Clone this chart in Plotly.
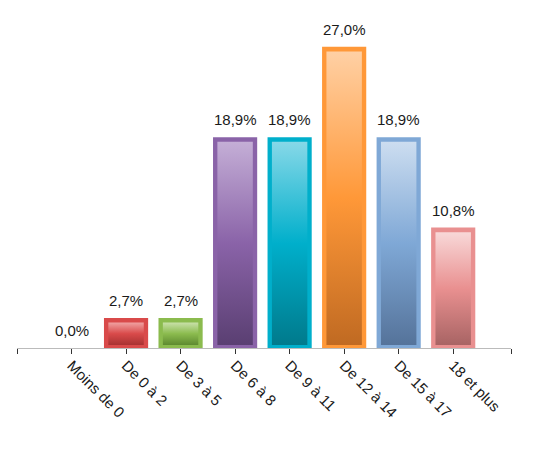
import plotly.graph_objects as go

categories = ["Moins de 0", "De 0 à 2", "De 3 à 5", "De 6 à 8", "De 9 à 11",
              "De 12 à 14", "De 15 à 17", "18 et plus"]
values = [0.0, 2.7, 2.7, 18.9, 18.9, 27.0, 18.9, 10.8]
labels = ["0,0%", "2,7%", "2,7%", "18,9%", "18,9%", "27,0%", "18,9%", "10,8%"]

border_colors = ["#D94A4A", "#D94A4A", "#8BBB4E", "#8A63A8", "#00AFCB",
                 "#FF9838", "#7FA8D6", "#E99090"]
top_colors = ["#F0A0A0", "#F0A0A0", "#C8E0A8", "#C4AED6", "#86D8E8",
              "#FFD0A4", "#CCDDF0", "#F8D8D8"]
bottom_colors = ["#A83232", "#A83232", "#5E8A30", "#5A3F72", "#007A8C",
                 "#C06A22", "#55739A", "#A86464"]

FONT = "Liberation Sans, Arial"
x = list(range(len(categories)))
bar_w = 0.81
inset_x = 0.08
inset_top = 0.42
inset_bot = 0.27

fig = go.Figure()
fig.add_trace(go.Bar(
    x=x, y=values, width=bar_w,
    marker=dict(color=border_colors, line=dict(width=0)),
    hoverinfo="skip", showlegend=False,
))

for i, v in enumerate(values):
    if v <= inset_top + inset_bot:
        continue
    x0 = i - bar_w / 2 + inset_x
    x1 = i + bar_w / 2 - inset_x
    y0 = inset_bot
    y1 = v - inset_top
    fig.add_trace(go.Scatter(
        x=[x0, x1, x1, x0, x0], y=[y0, y0, y1, y1, y0],
        mode="lines", line=dict(width=0), fill="toself",
        fillgradient=dict(type="vertical",
                          colorscale=[[0, bottom_colors[i]], [0.5, border_colors[i]], [1, top_colors[i]]]),
        hoverinfo="skip", showlegend=False,
    ))

for i, v in enumerate(values):
    fig.add_annotation(
        x=i, y=v, text=labels[i], showarrow=False,
        xanchor="center", yanchor="bottom", yshift=7,
        font=dict(family=FONT, size=15, color="#1a1a1a"),
    )

fig.update_layout(
    width=546, height=452,
    margin=dict(l=17, r=35, t=20, b=104),
    plot_bgcolor="white", paper_bgcolor="white",
    barmode="overlay",
    font=dict(family=FONT, size=15, color="#1a1a1a"),
    xaxis=dict(
        range=[-1, 8.06], tickmode="array",
        tickvals=[-1] + x + [8.06], ticktext=[""] + categories + [""],
        tickangle=45, ticks="outside", ticklen=5, tickcolor="#333",
        showline=True, linecolor="#BBBBBB", linewidth=1,
        showgrid=False, zeroline=False, ticklabelstandoff=-3,
        tickfont=dict(family=FONT, size=15, color="#1a1a1a"),
    ),
    yaxis=dict(range=[0, 29.4], visible=False, showgrid=False, zeroline=False),
)

fig.write_html("out.html")
